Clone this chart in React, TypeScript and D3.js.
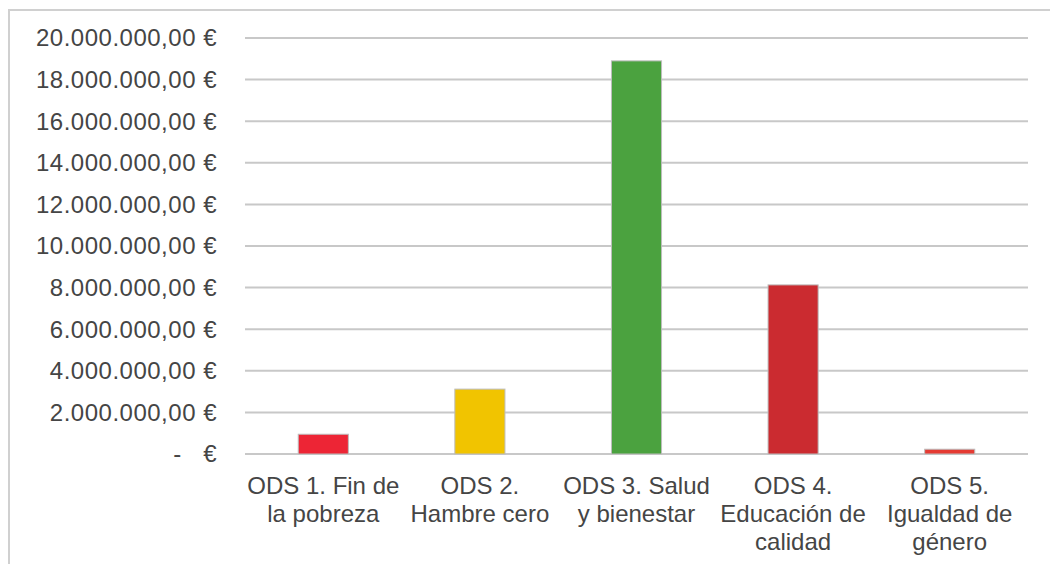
import React from 'react';
import * as d3 from 'd3';

// ODS categories, one entry per label line
const categories = [
  ['ODS 1. Fin de', 'la pobreza'],
  ['ODS 2.', 'Hambre cero'],
  ['ODS 3. Salud', 'y bienestar'],
  ['ODS 4.', 'Educación de', 'calidad'],
  ['ODS 5.', 'Igualdad de', 'género'],
];
const amounts = [950000, 3120000, 18900000, 8130000, 230000];
const barColors = ['#ED2535', '#F1C400', '#4BA23F', '#CB2B30', '#E53B33'];
const yTicks = [0, 2000000, 4000000, 6000000, 8000000, 10000000, 12000000, 14000000, 16000000, 18000000, 20000000];

const W = 1050;
const H = 564;
const FONT = '"Liberation Sans", Arial, sans-serif';

const locale = d3.formatLocale({ decimal: ',', thousands: '.', grouping: [3], currency: ['', '€'] });
const fmt = locale.format(',.2f');
const euro = (v: number) => (v === 0 ? '-   €' : fmt(v) + ' €');

export default function App() {
  const names = categories.map(c => c.join(' '));

  const x = d3.scaleBand<string>()
    .domain(names)
    .range([245, 1028])
    .paddingInner(0.68)
    .paddingOuter(0.34);

  const y = d3.scaleLinear()
    .domain([0, 20000000])
    .range([454, 38]);

  return (
    <svg width={W} height={H} style={{ position: 'absolute', left: 0, top: 0, background: '#fff' }}>
      {/* outer frame, runs off the right and bottom of the picture */}
      <rect x={9} y={10} width={W + 20} height={H + 20} fill="#fff" stroke="#d0d0d0" strokeWidth={2} />

      {/* gridlines */}
      {yTicks.map(t => (
        <line key={t} x1={245} x2={1028} y1={y(t)} y2={y(t)} stroke="#c8c8c8" strokeWidth={2} />
      ))}

      {/* y tick labels */}
      {yTicks.map(t => (
        <text
          key={'l' + t}
          x={217}
          y={y(t)}
          dy="0.35em"
          textAnchor="end"
          fontFamily={FONT}
          fontSize={24}
          letterSpacing={0.5}
          fill="#454545"
          style={{ whiteSpace: 'pre' }}
        >
          {euro(t)}
        </text>
      ))}

      {/* bars */}
      {names.map((n, i) => (
        <rect
          key={n}
          x={x(n)}
          y={y(amounts[i])}
          width={x.bandwidth()}
          height={y(0) - y(amounts[i])}
          fill={barColors[i]}
          stroke="#bdbdbd"
          strokeWidth={1}
        />
      ))}

      {/* category labels */}
      {categories.map((lines, i) => {
        const cx = (x(names[i]) ?? 0) + x.bandwidth() / 2;
        return (
          <text key={'c' + i} textAnchor="middle" fontFamily={FONT} fontSize={24} fill="#454545">
            {lines.map((ln, j) => (
              <tspan key={j} x={cx} y={494 + j * 28}>{ln}</tspan>
            ))}
          </text>
        );
      })}
    </svg>
  );
}
